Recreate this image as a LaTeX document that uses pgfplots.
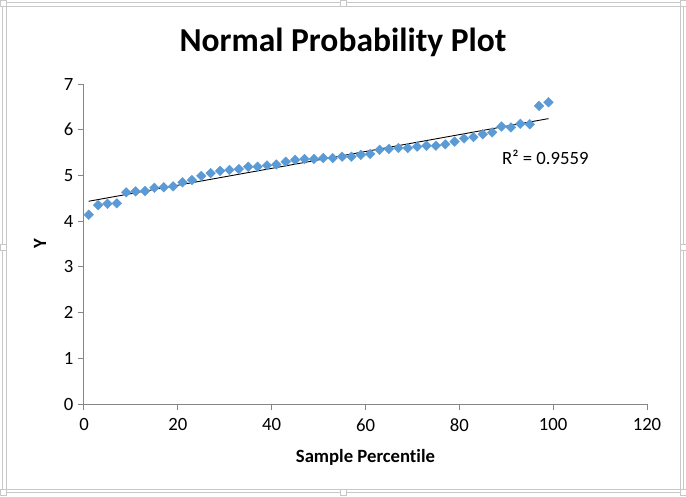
\documentclass[border=0pt]{standalone}
\usepackage{pgfplots}
\usepackage{pgfplotstable}
\pgfplotsset{compat=1.18}
\usetikzlibrary{calc}
\usepackage{fontspec}
\setmainfont{Carlito}[Ligatures=NoCommon]
\definecolor{ptblue}{HTML}{5B9BD5}
\definecolor{axgray}{HTML}{868686}
\definecolor{framegray}{HTML}{C8C8C8}

\pgfplotstableread{
x y
1 4.14
3 4.35
5 4.38
7 4.39
9 4.63
11 4.65
13 4.66
15 4.73
17 4.74
19 4.76
21 4.85
23 4.90
25 4.99
27 5.05
29 5.10
31 5.12
33 5.14
35 5.19
37 5.19
39 5.22
41 5.24
43 5.30
45 5.34
47 5.36
49 5.36
51 5.38
53 5.38
55 5.41
57 5.41
59 5.45
61 5.47
63 5.56
65 5.58
67 5.60
69 5.60
71 5.63
73 5.65
75 5.65
77 5.68
79 5.74
81 5.81
83 5.84
85 5.90
87 5.94
89 6.07
91 6.05
93 6.13
95 6.12
97 6.52
99 6.60
}\datatable

\begin{document}
\begin{tikzpicture}
\useasboundingbox (-84pt,-92pt) rectangle (602pt,404pt);
\fill[white] (-84pt,-92pt) rectangle (602pt,404pt);
\draw[framegray, line width=1pt] (-81pt,-88pt) rectangle (599pt,401pt);
\draw[framegray, line width=0.6pt] (-78pt,-85pt) rectangle (596pt,398pt);
\foreach \hx/\hy in {-81/-88, 259/-88, 599/-88, -81/156.5, 599/156.5, -81/401, 259/401, 599/401}{
  \filldraw[fill=white, draw=framegray, line width=0.6pt] ($(\hx pt,\hy pt)+(-3pt,-3pt)$) rectangle ($(\hx pt,\hy pt)+(3pt,3pt)$);
}
\begin{axis}[
  at={(0pt,0pt)}, anchor=origin,
  scale only axis,
  width=563pt, height=320pt,
  xmin=0, xmax=120, ymin=0, ymax=7,
  xtick={0,20,...,120}, ytick={0,1,...,7},
  axis x line*=bottom, axis y line*=left,
  axis line style={axgray, line width=1pt, -},
  tick style={axgray, line width=1pt},
  tick align=outside,
  major tick length=6pt,
  /pgf/number format/assume math mode=true,
  tick label style={font=\fontsize{18.7}{22}\selectfont, black},
  xticklabel style={yshift=-5pt},
  yticklabel style={xshift=-1pt},
  clip=false,
]
\addplot[only marks, mark=square*, mark size=3.4pt, mark options={fill=ptblue, draw=ptblue, rotate=45}] table[x=x, y=y] {\datatable};
\addplot[black, line width=0.9pt, no marks] table[x=x, y={create col/linear regression={y=y}}] {\datatable};
\node[anchor=west, font=\fontsize{18.7}{22}\selectfont, inner sep=0pt] at (axis cs:89.1,5.40) {R² = 0.9559};
\end{axis}
\node[font=\fontsize{33.5}{38}\selectfont\bfseries] at (259pt,362pt) {Normal Probability Plot};
\node[font=\fontsize{18.7}{22}\selectfont\bfseries] at (281.5pt,-53pt) {Sample Percentile};
\node[font=\fontsize{18.7}{22}\selectfont\bfseries, rotate=90] at (-44pt,160pt) {Y};
\end{tikzpicture}
\end{document}
